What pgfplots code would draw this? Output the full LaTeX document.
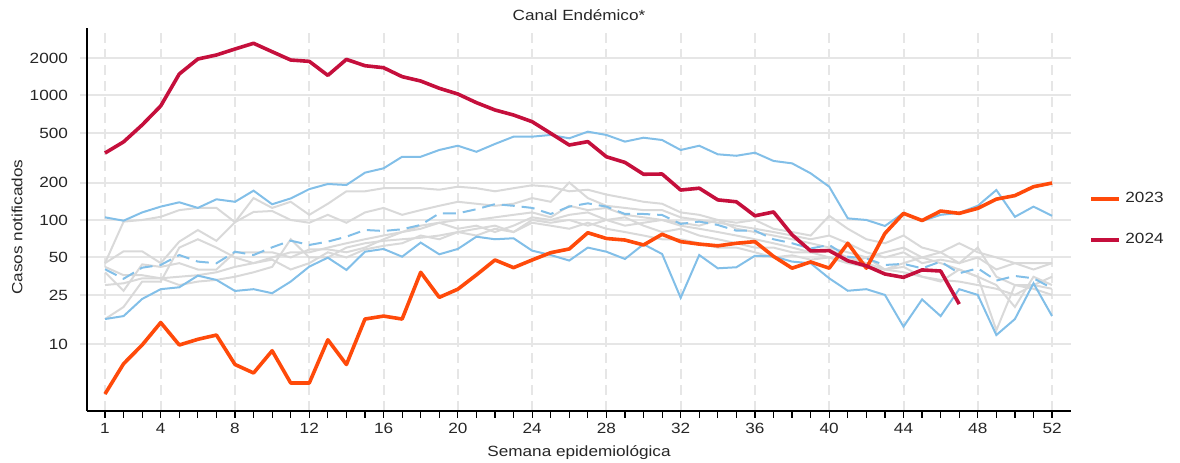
\documentclass[border=0pt]{standalone}
\usepackage{fontspec}
\setmainfont{Liberation Sans}[FakeStretch=1.16]
\usepackage{pgfplots}
\usepackage{pgfplotstable}
\pgfplotsset{compat=1.18}
\definecolor{c23}{HTML}{FF4A0A}
\definecolor{c24}{HTML}{C50F3C}
\definecolor{cblue}{HTML}{82BFE8}
\definecolor{cgrey}{HTML}{D9D9D9}
\definecolor{cgrid}{HTML}{E6E6E6}
\pgfplotstableread{
w g1 g2 g3 g4 g5 g6 up lo med a23 a24
1 45 45 38 30 16 42 105 16.0 40.2 4.0 345
2 97 56 27 31 20 36 98.7 16.9 33.7 7.0 424
3 100 56 44 34 32 36 115 23.2 41.4 9.9 580
4 106 45 42 34 32 34 128 27.8 43.5 15.0 824
5 120 67 45 35 60 30 138.7 28.8 52.3 9.9 1489
6 125 83 40 36 70 32 125 35.7 46.3 11.0 1964
7 125 68 40 38 60 33 146.6 33 44.9 11.9 2115
8 96 96 55 42 50 35 140 26.9 55.6 6.9 2363
9 150 116 55 45 45 38 172 27.8 52.3 5.9 2626
10 125 118 55 50 48 42 133.7 25.8 60.3 8.9 2248
11 140 100 50 55 40 70 149 32 68.2 4.9 1928
12 110 95 58 55 45 50 177 42.2 63 4.9 1880
13 135 110 58 60 55 50 194.6 49.8 67 10.9 1452
14 170 95 55 65 50 60 191 39.7 73.4 6.9 1950
15 170 115 60 70 58 65 240 55.6 83.1 16.0 1735
16 180 125 70 75 62 68 260 58.5 81.6 16.9 1672
17 180 110 80 80 65 70 322 50.7 84.2 16.0 1417
18 180 120 90 85 75 72 322 65.8 91.2 38 1307
19 175 130 95 95 70 75 365 53 113 23.9 1143
20 185 140 100 85 80 80 395 58.5 113 27.8 1028
21 180 135 100 90 85 75 353 73.4 122 36.2 876
22 170 130 105 80 90 85 408 70 134 47.7 765
23 180 135 110 90 80 80 467 71.3 130 41.4 697
24 190 150 115 105 100 95 467 56.7 125 47.7 616
25 185 140 105 100 95 90 482 52.3 111.7 54.6 497
26 170 200 130 110 100 85 453 47.2 128 58.5 400
27 175 150 120 115 90 95 512 60 136 79 426
28 160 130 125 100 100 85 482 55.6 128 71 322
29 150 125 110 90 105 80 426 48.6 111.7 69 290
30 140 120 105 95 90 75 458 63.8 111.7 63 233
31 135 120 100 100 80 70 439 53.3 109.7 76.7 234
32 115 105 95 90 85 70 365 23.7 93 67 174
33 110 100 90 85 75 65 395 52.3 97 64 180
34 100 95 100 80 70 60 337 40.9 91.2 62 145
35 95 90 85 75 65 60 328 41.7 82 65 140
36 100 85 80 70 60 55 347 51.6 82 67 108
37 85 80 75 65 60 50 298 51 70 51 116
38 80 75 70 60 55 52 285 46.3 65 41 76
39 75 70 65 55 55 48 237 44.9 59 46 56.4
40 108 75 60 50 58 50 185 34 63 41 56.7
41 85 65 55 45 50 45 103 27 50.7 65 47
42 70 55 50 42 45 50 100 27.8 49 41 42.8
43 65 50 55 40 40 40 89.5 25 43.5 78 36.8
44 75 55 60 38 42 45 114 13.9 44.4 113 34.6
45 60 45 50 35 35 50 98 23 40.9 99 39.7
46 55 48 45 33 32 55 110 16.9 46.3 118 38.9
47 65 45 40 32 40 45 114 27.8 37.3 113 21.1
48 55 50 35 30 35 60 130 25 40.9 124 nan
49 50 40 30 28 13 35 174 11.9 32.6 147 nan
50 45 45 20 25 30 30 106 16.0 35.5 157 nan
51 45 40 35 30 30 28 128 31 34 185 nan
52 45 45 30 35 28 25 108 16.9 28.3 198 nan
}\data
\begin{document}
\begin{tikzpicture}
\useasboundingbox (0,0) rectangle (590pt,231pt);
\begin{axis}[
  at={(43.5pt,25.5pt)}, anchor=south west,
  scale only axis, width=492pt, height=191.5pt,
  xmin=0.03, xmax=53.02, ymode=log, ymin=2.92, ymax=3486,
  axis x line*=bottom, axis y line*=left,
  axis line style={black, line width=0.7pt},
  xtick={1,4,8,12,16,20,24,28,32,36,40,44,48,52},
  xticklabels={1,4,8,12,16,20,24,28,32,36,40,44,48,52},
  minor xtick={1,...,52},
  ytick={10,25,50,100,200,500,1000,2000},
  yticklabels={10,25,50,100,200,500,1000,2000},
  tick align=outside,
  major tick length=3.5pt, minor tick length=3.5pt,
  x tick style={black, line width=0.6pt},
  y tick style={cgrid, line width=1pt},
  xmajorgrids, ymajorgrids,
  x grid style={cgrid, line width=1pt, dash pattern=on 5pt off 3pt},
  y grid style={cgrid, line width=1pt},
  tick label style={font=\fontsize{7.4}{8}\selectfont, text=black!85},
  yticklabel style={xshift=-2.5pt},
  xticklabel style={yshift=1pt},
  title={Canal Endémico*},
  every axis title/.style={at={(axis description cs:0.5,1)}, anchor=base, yshift=3.8pt, font=\fontsize{7.4}{8}\selectfont, text=black!85},
  xlabel={Semana epidemiológica},
  xlabel style={at={(axis description cs:0.5,0)}, anchor=base, yshift=-22.5pt, font=\fontsize{7.4}{8}\selectfont, text=black!85},
  ylabel={Casos notificados},
  ylabel style={at={(axis description cs:-0.0711,0.48)}, anchor=center, font=\fontsize{7.4}{8}\selectfont, text=black!85},
  legend image code/.code={\draw[#1, line width=2pt] (0pt,0pt) -- (14pt,0pt);},
  legend cell align=left,
  legend style={draw=none, fill=none, at={(axis description cs:1,0.5)}, anchor=west, xshift=6pt, row sep=9.5pt, font=\fontsize{7.4}{8}\selectfont, text=black!85, /tikz/every even column/.append style={column sep=6pt}},
  unbounded coords=jump,
]
\foreach \g in {g1,g2,g3,g4,g5,g6}{
  \addplot[cgrey, line width=1pt, forget plot] table[x=w, y=\g] {\data};
}
\addplot[cblue, line width=1pt, forget plot] table[x=w, y=up] {\data};
\addplot[cblue, line width=1pt, forget plot] table[x=w, y=lo] {\data};
\addplot[cblue, line width=1pt, dash pattern=on 6.5pt off 3.5pt, forget plot] table[x=w, y=med] {\data};
\addplot[c23, line width=1.8pt, line join=round] table[x=w, y=a23] {\data};
\addlegendentry{2023}
\addplot[c24, line width=1.8pt, line join=round] table[x=w, y=a24] {\data};
\addlegendentry{2024}
\end{axis}
\end{tikzpicture}
\end{document}
